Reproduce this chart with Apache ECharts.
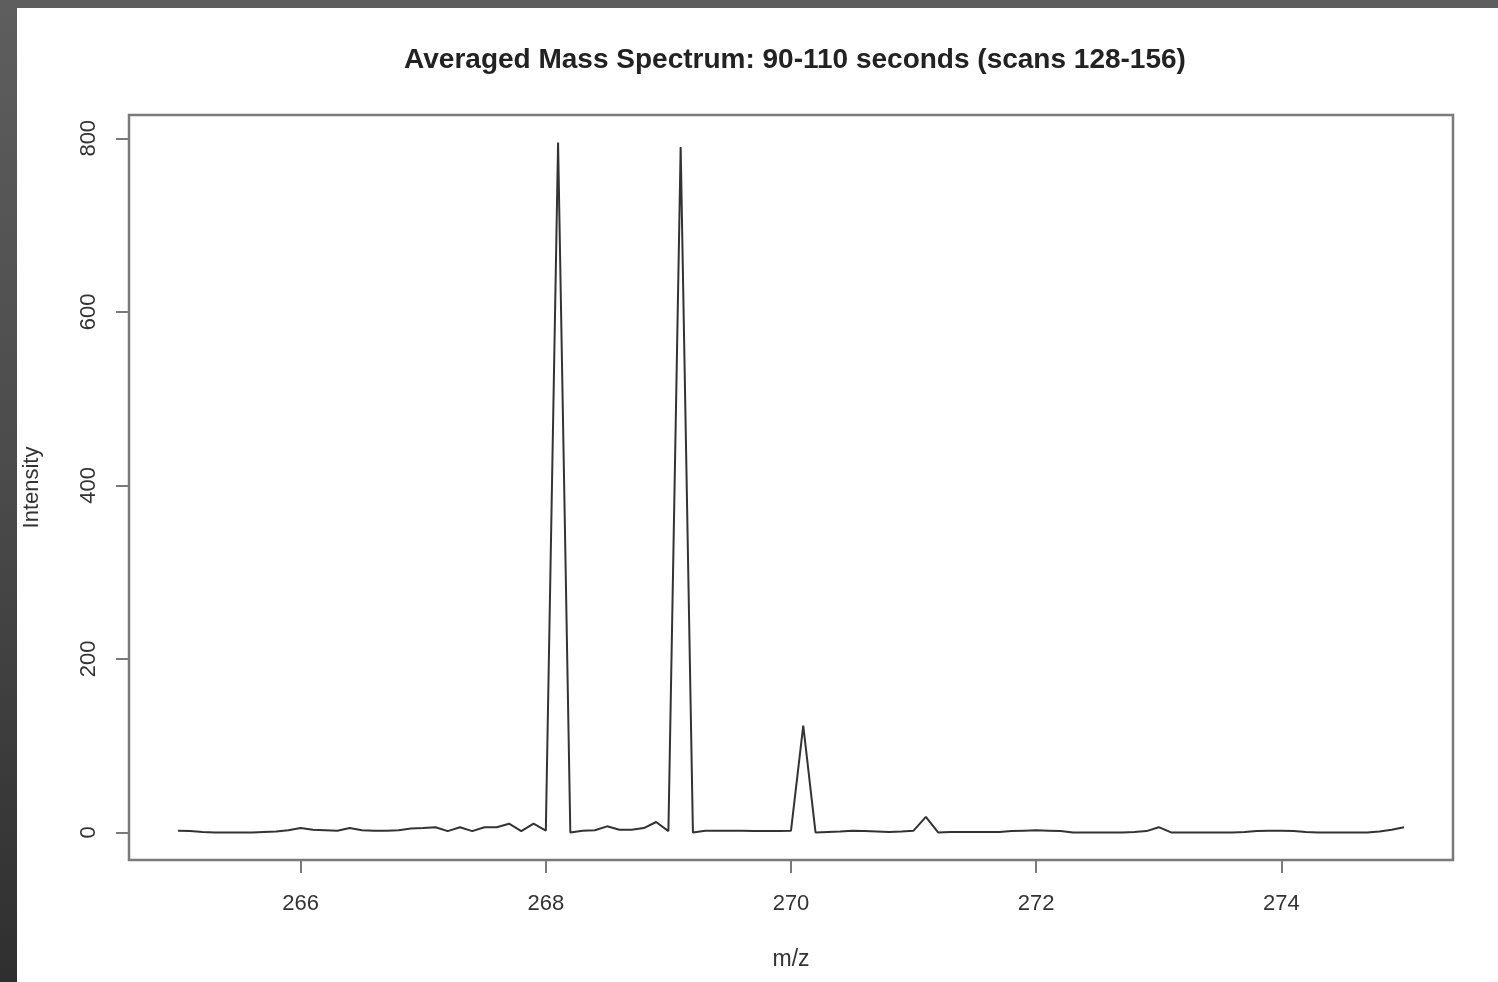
<!DOCTYPE html>
<html>
<head>
<meta charset="utf-8">
<script src="https://cdn.jsdelivr.net/npm/echarts@6/dist/echarts.min.js"></script>
<style>
  html, body { margin: 0; padding: 0; width: 1498px; height: 982px; overflow: hidden;
    background: linear-gradient(to bottom, #5e5e5e 0%, #4a4a4a 50%, #2f2f2f 100%); }
  #panel { position: absolute; left: 17px; top: 8px; width: 1481px; height: 974px; background: #ffffff; }
  #chart { width: 1481px; height: 974px; }
</style>
</head>
<body>
<div id="panel"><div id="chart"></div></div>
<script>
// m/z values (step 0.1 from 265.0 to 275.0)
const mzStart = 265.0;
const mzStep = 0.1;
// intensity readings for each m/z sample
const intensity = [
  2, 1.5, 0.5, 0, 0, 0, 0, 0.5, 1, 2.5,
  5, 3, 2.5, 2, 5, 2.5, 2, 2, 2.5, 4.5,
  5, 6, 1.5, 6, 1.5, 6, 6, 10, 1.5, 10,
  2, 795, 0, 2, 2.5, 7, 3, 3, 5, 12,
  1.5, 790, 0, 2, 2, 2, 2, 1.5, 1.5, 1.5,
  2, 123, 0, 0.5, 1, 2, 1.5, 1, 0.5, 1,
  2, 18, 0, 0.5, 0.5, 0.5, 0.5, 0.5, 1.5, 2,
  2.5, 2, 1.5, 0, 0, 0, 0, 0, 0.5, 1.5,
  6, 0, 0, 0, 0, 0, 0, 0.5, 1.5, 2,
  2, 1.5, 0.5, 0, 0, 0, 0, 0, 1, 3,
  6
];
const xTicks = [266, 268, 270, 272, 274];
const yTicks = [0, 200, 400, 600, 800];
const titleText = 'Averaged Mass Spectrum: 90-110 seconds (scans 128-156)';
const xName = 'm/z';
const yName = 'Intensity';

const mz = intensity.map((_, i) => +(mzStart + i * mzStep).toFixed(1));
const seriesData = mz.map((m, i) => [m, intensity[i]]);

const chart = echarts.init(document.getElementById('chart'), null, { renderer: 'canvas' });
const font = 'Liberation Sans, Arial, Helvetica, sans-serif';
chart.setOption({
  animation: false,
  backgroundColor: '#ffffff',
  title: {
    text: titleText,
    left: 773, top: 33, textAlign: 'center',
    textStyle: { fontFamily: font, fontSize: 28, fontWeight: 'bold', color: '#222222' }
  },
  grid: {
    left: 112, top: 107, width: 1324, height: 745,
    outerBoundsMode: 'none', containLabel: false,
    show: true, borderColor: '#7a7a7a', borderWidth: 2.5, backgroundColor: 'transparent'
  },
  xAxis: {
    type: 'value', min: 264.6, max: 275.4,
    name: xName, nameLocation: 'middle', nameGap: 88,
    nameTextStyle: { fontFamily: font, fontSize: 23, color: '#333333' },
    axisLine: { show: false, onZero: false },
    splitLine: { show: false },
    axisTick: { show: true, customValues: xTicks, length: 13, inside: false,
      lineStyle: { color: '#7a7a7a', width: 2 } },
    axisLabel: { customValues: xTicks, margin: 33, fontFamily: font, fontSize: 22, color: '#333333' }
  },
  yAxis: {
    type: 'value', min: -31.8, max: 826.8,
    name: yName, nameLocation: 'middle', nameGap: 86, nameRotate: 90,
    nameTextStyle: { fontFamily: font, fontSize: 22, color: '#333333' },
    axisLine: { show: false, onZero: false },
    splitLine: { show: false },
    axisTick: { show: true, customValues: yTicks, length: 13,
      lineStyle: { color: '#7a7a7a', width: 2 } },
    axisLabel: { customValues: yTicks, rotate: 90, margin: 29, fontFamily: font, fontSize: 22, color: '#333333' }
  },
  series: [{
    type: 'line', data: seriesData, showSymbol: false, smooth: false,
    lineStyle: { color: '#333333', width: 2 }
  }]
});
</script>
</body>
</html>
